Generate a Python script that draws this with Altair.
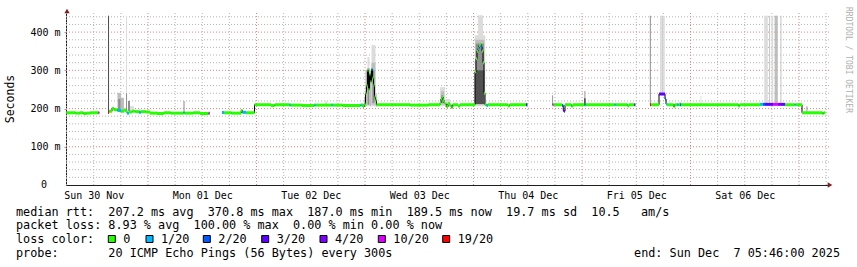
import altair as alt
import pandas as pd

# ---------------- data ----------------
loss_labels = ["0", "1/20", "2/20", "3/20", "4/20", "10/20", "19/20"]
loss_colors = ["#26ff00", "#00b8ff", "#0059ff", "#5e00ff", "#7e00ff", "#dd00ff", "#ff0000"]

day_labels = ["Sun 30 Nov", "Mon 01 Dec", "Tue 02 Dec", "Wed 03 Dec",
              "Thu 04 Dec", "Fri 05 Dec", "Sat 06 Dec"]

# time axis in hours since Sun 30 Nov 00:00
start_hour = 5.86
end_hour = 174.63

# median rtt segments (hours, ms, loss index), each with an end hour
seg1_h = [5.9, 8.0, 8.9, 9.7, 10.4, 11.2, 13.0]
seg1_ms = [189, 188, 189, 187, 188, 189, 189]
seg1_loss = [0, 0, 0, 0, 0, 0, 5]
seg1_end = 13.23

seg2_h = [15.15, 15.38, 16.04, 16.5, 17.25, 18.03, 18.69, 19.13, 19.36, 19.8, 20.5,
          21.2, 22.0, 22.4, 23.5, 24.44, 26.0, 27.5, 29.0, 31.0, 31.85, 32.1, 34.0,
          35.5, 37.4]
seg2_ms = [190, 193, 200, 197, 195, 193, 196, 192, 188, 191, 193,
           192, 190, 192, 191, 188, 187, 189, 188, 188, 189, 188, 189,
           187, 188]
seg2_loss = [6, 0, 0, 0, 1, 0, 0, 0, 1, 0, 0,
             0, 1, 0, 0, 0, 0, 0, 0, 0, 1, 0, 0,
             0, 5]
seg2_end = 37.65

seg3_h = [40.37, 40.8, 42.5, 44.6, 44.9, 45.7, 47.56, 49.0, 51.2, 52.0, 55.3, 55.6,
          58.0, 60.8, 61.1, 64.6, 64.9, 67.0, 71.0, 71.3, 71.55, 71.8,
          72.1, 72.32, 72.54, 72.76, 72.99, 73.21, 73.43, 73.65, 73.87, 74.09, 74.31,
          74.53, 78.0, 82.0, 86.0,
          88.59, 88.81, 89.03, 89.25, 89.47, 89.69, 90.0, 90.36, 90.8, 91.1, 91.4,
          92.57, 93.0,
          96.33, 96.55, 96.77, 96.99, 97.21, 97.43, 97.66, 97.88, 98.1, 98.32,
          98.54, 98.9, 99.2, 103.6, 104.0, 107.6]
seg3_ms = [190, 189, 188, 195, 190, 189, 210, 210, 208, 210, 209, 209,
           208, 209, 209, 209, 209, 208, 209, 209, 205, 212,
           240, 260, 300, 250, 290, 270, 303, 280, 261, 230, 222,
           210, 210, 209, 210,
           215, 225, 230, 222, 215, 212, 205, 213, 208, 203, 210,
           207, 210,
           296, 330, 350, 357, 365, 368, 362, 350, 320, 240,
           210, 208, 210, 207, 210, 210]
seg3_loss = [1, 0, 0, 0, 1, 0, 0, 0, 0, 0, 1, 0,
             0, 1, 0, 1, 0, 0, 1, 0, 0, 0,
             0, 0, 0, 0, 0, 0, 1, 0, 0, 0, 0,
             0, 0, 0, 0,
             0, 0, 0, 0, 0, 0, 0, 0, 0, 0, 0,
             0, 0,
             0, 0, 0, 1, 0, 0, 2, 0, 0, 0,
             0, 1, 0, 0, 0, 3]
seg3_end = 107.9

seg4_h = [113.47, 113.7, 115.6, 115.85, 116.05, 116.24, 117.7, 118.0, 120.55, 120.8,
          127.2, 127.5, 130.1, 130.4, 131.55]
seg4_ms = [210, 210, 208, 195, 193, 210, 206, 210, 210, 210,
           210, 210, 207, 210, 210]
seg4_loss = [5, 0, 2, 3, 3, 0, 0, 0, 2, 0,
             1, 0, 0, 0, 3]
seg4_end = 131.79

seg5_h = [135.04, 135.26, 137.03, 138.36, 138.58, 138.8, 140.28, 140.5, 141.0, 141.4,
          141.68, 141.9, 154.6, 154.9, 159.37, 160.03, 160.48, 162.25, 163.35, 164.02,
          164.9, 167.0, 167.25, 168.66, 173.2, 173.45]
seg5_ms = [210, 210, 238, 225, 212, 210, 205, 210, 210, 210,
           210, 210, 207, 210, 211, 211, 211, 211, 211, 211,
           210, 210, 210, 189, 187, 189]
seg5_loss = [6, 0, 3, 2, 1, 0, 0, 0, 1, 0,
             2, 0, 0, 0, 1, 2, 3, 5, 4, 3,
             0, 1, 0, 0, 0, 0]
seg5_end = 173.8

# smoke (ping spread): start hour, end hour, low ms, high ms, density level
smoke_h0 = [15.15, 17.25, 17.4, 18.03, 19.13, 19.13, 19.58, 20.02, 22.0, 31.85,
            63.2, 71.45, 71.9, 72.1, 72.54, 72.54, 72.99, 73.43, 73.43, 73.65, 74.31,
            88.6, 88.8, 88.9, 89.7,
            96.3, 97.0, 96.4, 96.5, 96.3,
            113.4, 120.45, 120.45,
            135.0, 137.25, 137.6, 137.95, 141.5, 146.2,
            160.3, 161.4, 161.9, 162.6, 163.9, 169.65]
smoke_h1 = [15.38, 18.03, 17.9, 18.69, 19.36, 19.36, 20.02, 20.9, 22.3, 32.08,
            63.6, 71.65, 72.1, 72.54, 72.99, 72.99, 73.43, 74.31, 74.31, 74.09, 74.6,
            89.7, 89.5, 89.3, 90.8,
            98.6, 98.1, 98.4, 98.3, 98.4,
            113.6, 120.8, 120.8,
            135.22, 137.5, 137.85, 138.3, 142.0, 146.4,
            161.1, 161.6, 162.3, 163.3, 164.1, 169.85]
smoke_lo = [190, 192, 195, 192, 192, 192, 193, 192, 190, 190,
            208, 203, 205, 206, 206, 210, 206, 206, 210, 215, 205,
            206, 210, 215, 204,
            206, 210, 210, 215, 212,
            210, 210, 212,
            210, 238, 238, 238, 210, 210,
            211, 211, 211, 211, 211, 189]
smoke_hi = [443, 241, 225, 228, 443, 240, 220, 206, 198, 220,
            219, 210, 230, 300, 335, 305, 300, 366, 320, 300, 240,
            256, 245, 235, 225,
            392, 444, 380, 370, 300,
            235, 246, 227,
            443, 443, 443, 443, 218, 233,
            443, 443, 443, 443, 443, 206]
smoke_level = [4, 2, 3, 2, 1, 3, 3, 1, 2, 3,
               1, 2, 3, 2, 1, 3, 2, 1, 2, 3, 2,
               1, 2, 3, 1,
               1, 1, 2, 3, 4,
               3, 2, 4,
               3, 1, 2, 1, 1, 1,
               1, 2, 1, 2, 2, 3]

rtt_line = "median rtt:  207.2 ms avg  370.8 ms max  187.0 ms min  189.5 ms now  19.7 ms sd  10.5   am/s"
loss_line = "packet loss: 8.93 % avg  100.00 % max  0.00 % min 0.00 % now"
color_label = "loss color:"
probe_line = "probe:       20 ICMP Echo Pings (56 Bytes) every 300s"
end_text = "end: Sun Dec  7 05:46:00 2025"
watermark = "RRDTOOL / TOBI OETIKER"
y_title = "Seconds"
y_zero_label = "0"

# ---------------- tables ----------------
segments = [
    (seg1_h, seg1_ms, seg1_loss, seg1_end),
    (seg2_h, seg2_ms, seg2_loss, seg2_end),
    (seg3_h, seg3_ms, seg3_loss, seg3_end),
    (seg4_h, seg4_ms, seg4_loss, seg4_end),
    (seg5_h, seg5_ms, seg5_loss, seg5_end),
]
rule_rows, line_rows = [], []
for sid, (hs, ms, ls, end) in enumerate(segments):
    for i in range(len(hs)):
        nxt = hs[i + 1] if i + 1 < len(hs) else end
        rule_rows.append({"seg": sid, "t": hs[i], "t2": nxt, "ms": ms[i], "loss": loss_labels[ls[i]]})
        line_rows.append({"seg": sid, "t": hs[i], "ms": ms[i]})
    line_rows.append({"seg": sid, "t": end, "ms": ms[-1]})
rules_df = pd.DataFrame(rule_rows)
line_df = pd.DataFrame(line_rows)
smoke_df = pd.DataFrame({"t0": smoke_h0, "t1": smoke_h1, "lo": smoke_lo,
                         "hi": smoke_hi, "level": smoke_level})

# grid positions (6 h minor / 1 day major, 20 m minor / 100 m major)
vgrid = list(range(6, 175, 6))
hgrid = list(range(20, 441, 20))
vminor = pd.DataFrame({"h": [v for v in vgrid if v % 24]})
vmajor = pd.DataFrame({"h": [v for v in vgrid if v % 24 == 0]})
hminor = pd.DataFrame({"v": [v for v in hgrid if v % 100]})
hmajor = pd.DataFrame({"v": [v for v in hgrid if v % 100 == 0]})

# ---------------- styling ----------------
FONT = "DejaVu Sans Mono"
GRID = "#b4b4b4"
MGRID = "#e48484"
AXISC = "#1f1f1f"
ARROW = "#801f1f"
NB = "\u00a0"
DASH = [1, 2]

W, H = 763, 172
OX, OY = 66, 13  # view origin in the page

xscale = alt.Scale(domain=[start_hour, end_hour], nice=False, zero=False)
yscale = alt.Scale(domain=[0, 450], nice=False, zero=False)

day_js = "[" + ",".join("'" + d + "'" for d in day_labels) + "]"
xaxis = alt.Axis(
    values=[12 + 24 * i for i in range(len(day_labels))],
    labelExpr=day_js + "[floor(datum.value / 24)]",
    grid=False, ticks=False,
    domainColor=AXISC,
    labelFont=FONT, labelFontSize=10, labelColor="#000000",
    labelPadding=5, labelOverlap=False, labelFlush=False,
    title=None,
)
yaxis = alt.Axis(
    values=[100, 200, 300, 400],
    labelExpr="datum.label + ' m'",
    grid=False, ticks=True, tickSize=2, tickColor=MGRID,
    domainColor=AXISC,
    labelFont=FONT, labelFontSize=10, labelColor="#000000",
    labelPadding=4, labelOverlap=False, labelFlush=False,
    title=None,
)

grid_layers = [
    alt.Chart(vminor).mark_rule(color=GRID, strokeDash=DASH, strokeWidth=1).encode(
        x=alt.X("h:Q", scale=xscale, axis=xaxis, title=None), y=alt.value(0), y2=alt.value(H)),
    alt.Chart(hminor).mark_rule(color=GRID, strokeDash=DASH, strokeWidth=1).encode(
        y=alt.Y("v:Q", scale=yscale, axis=yaxis, title=None), x=alt.value(0), x2=alt.value(W)),
    alt.Chart(vmajor).mark_rule(color=MGRID, strokeDash=DASH, strokeWidth=1).encode(
        x=alt.X("h:Q", title=None), y=alt.value(0), y2=alt.value(H)),
    alt.Chart(hmajor).mark_rule(color=MGRID, strokeDash=DASH, strokeWidth=1).encode(
        y=alt.Y("v:Q", title=None), x=alt.value(0), x2=alt.value(W)),
]

smoke = alt.Chart(smoke_df).mark_rect().encode(
    x=alt.X("t0:Q", title=None),
    x2="t1:Q",
    y=alt.Y("lo:Q", title=None),
    y2="hi:Q",
    color=alt.Color("level:O", scale=alt.Scale(domain=[1, 2, 3, 4],
                    range=["#dcdcdc", "#bdbdbd", "#8e8e8e", "#505050"]), legend=None),
)

median_line = alt.Chart(line_df).mark_line(
    interpolate="step-after", color="#000000", strokeWidth=1
).encode(
    x=alt.X("t:Q", title=None),
    y=alt.Y("ms:Q", title=None),
    detail="seg:N",
)

median_color = alt.Chart(rules_df).mark_rule(strokeWidth=3, strokeCap="butt").encode(
    x=alt.X("t:Q", title=None),
    x2="t2:Q",
    y=alt.Y("ms:Q", title=None),
    color=alt.Color("loss:N", scale=alt.Scale(domain=loss_labels, range=loss_colors), legend=None),
)

one = alt.Data(values=[{"k": 1}])


def txt(s, sx, sy, size=11.8, align="left", angle=0, color="#000000", baseline="middle"):
    return alt.Chart(alt.Data(values=[{"s": s.replace(" ", NB)}])).mark_text(
        font=FONT, fontSize=size, align=align, baseline=baseline, angle=angle, color=color
    ).encode(text="s:N", x=alt.value(sx - OX), y=alt.value(sy - OY))


layers = grid_layers + [smoke, median_line, median_color]

# axis arrows
layers.append(alt.Chart(one).mark_point(shape="triangle-up", filled=True, size=28,
                                        color=ARROW, opacity=1)
              .encode(x=alt.value(1), y=alt.value(-2)))
layers.append(alt.Chart(one).mark_point(shape="triangle-right", filled=True, size=28,
                                        color=ARROW, opacity=1)
              .encode(x=alt.value(W + 1), y=alt.value(H)))

# y title, zero label and watermark
layers.append(txt(y_title, 11, 99, size=11.5, align="center", angle=270))
layers.append(txt(y_zero_label, 47, 185, size=10, align="right"))
layers.append(txt(watermark, 848, 60, size=8, align="center", angle=90, color="#b0b0b0"))

# legend lines
L1, L2, L3, L4 = 211.7, 225.2, 239.3, 252.7
layers.append(txt(rtt_line, 16, L1))
layers.append(txt(loss_line, 16, L2))
layers.append(txt(color_label, 16, L3))
for lab, col, sx in zip(loss_labels, loss_colors, [108.3, 146, 203.3, 261.7, 320, 378.3, 442.7]):
    layers.append(alt.Chart(one).mark_rect(stroke="#000000", strokeWidth=1).encode(
        x=alt.value(sx - OX), x2=alt.value(sx - OX + 7),
        y=alt.value(235.5 - OY), y2=alt.value(242.5 - OY),
        fill=alt.value(col)))
    layers.append(txt(lab, sx + 15, L3))
layers.append(txt(probe_line, 16, L4))
layers.append(txt(end_text, 840, L4, align="right"))

chart = alt.layer(*layers).resolve_scale(color="independent").properties(
    width=W, height=H,
    autosize=alt.AutoSizeParams(type="none"),
    padding={"left": OX, "top": OY, "right": 857 - OX - W, "bottom": 267 - OY - H},
    background="#ffffff",
).configure_view(stroke=None)

chart.save("out.html", embed_options={"renderer": "svg", "actions": False})
